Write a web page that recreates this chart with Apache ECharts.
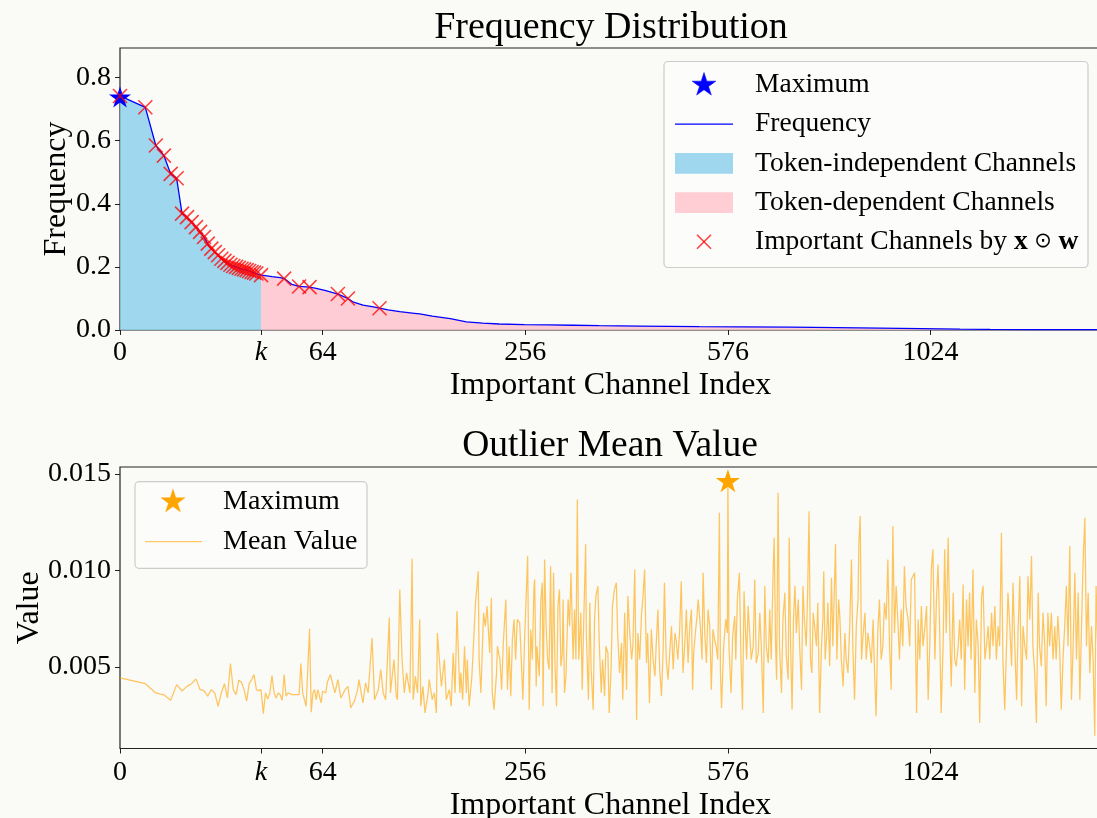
<!DOCTYPE html>
<html><head><meta charset="utf-8">
<script src="https://cdn.jsdelivr.net/npm/echarts@6/dist/echarts.min.js"></script>
<style>html,body{margin:0;padding:0;background:#fafaf7;}#c{width:1097px;height:818px;}</style>
</head><body><div id="c"></div>
<script>
// ---------- data ----------
const K = 31;
const xTickIdx = [0, K, 64, 256, 576, 1024];
const xTickLabels = ['0', 'k', '64', '256', '576', '1024'];
const xMaxIdx = 1500;
const yTicksTop = [0, 0.2, 0.4, 0.6, 0.8];
const yTicksBottom = [0.005, 0.010, 0.015];

const freqIdx = [0,1,2,3,4,5,6,7,8,9,10,11,12,13,14,15,16,17,18,19,20,21,22,23,24,25,26,27,28,29,30,31,32,
  36,40,42,46,50,54,56,60,66,70,74,78,81,85,92,100,105,112,122,135,140,152,170,187,205,224,255,287,320,358,420,523,600,700,800,900,1000,1100,1180,1300,1400,1500];
const freqVal = [0.742,0.706,0.585,0.553,0.495,0.481,0.369,0.358,0.342,0.326,0.311,0.295,0.274,0.258,0.247,0.237,0.226,0.219,0.213,0.207,0.203,0.200,0.197,0.194,0.192,0.190,0.187,0.184,0.182,0.179,0.176,0.174,0.173,
  0.169,0.166,0.163,0.145,0.138,0.137,0.136,0.132,0.125,0.119,0.114,0.106,0.100,0.088,0.079,0.073,0.069,0.064,0.058,0.053,0.051,0.044,0.036,0.026,0.022,0.019,0.017,0.016,0.015,0.0136,0.0126,0.0105,0.0100,0.0090,0.0075,0.0060,0.0045,0.0030,0.0020,0.0015,0.0012,0.0010];
const importantIdx = [0,1,2,3,4,5,6,7,8,9,10,11,12,13,14,15,16,17,18,19,20,21,22,23,24,25,26,27,28,29,31,42,50,56,74,81,105];

const meanIdx = [0,1,2,3,4,5,6,7,8,9,10,11,12,13,14,15,16,17,18,19,20,21,22,23,24,25,26,27,28,29,30,31,32,33,34,35,36,37,38,39,40,41,42,43,44,45,46,47,48,49,50,51,52,53,54,55,56,57,58,59,60,61,62,63,64,66,67,
69,72,74,76,79,81,83,86,88,89,92,94,96,99,101,104,106,108,110,113,114,117,119,120,122,124,126,128,131,133,134,136,138,140,141,143,145,148,149,152,154,156,157,159,161,164,166,169,171,173,175,177,180,181,183,185,187,188,190,193,195,197,200,201,203,206,208,210,213,215,216,218,221,222,225,227,229,232,234,236,238,240,242,244,246,249,251,253,255,257,259,261,
263,265,267,268,270,271,274,276,278,279,281,283,285,287,289,291,293,295,297,299,301,303,305,306,308,310,313,315,317,320,322,324,326,328,331,333,335,338,339,342,344,346,349,351,353,356,358,361,363,366,368,371,373,376,378,381,384,386,389,392,394,397,400,402,405,408,410,413,416,418,421,424,426,429,432,434,437,440,443,446,448,451,454,457,460,462,465,468,471,474,477,480,482,485,488,491,494,497,500,503,506,509,511,513,516,519,521,525,528,530,533,536,539,542,545,548,551,
554,557,560,562,564,568,572,575,576,578,582,585,589,591,594,598,601,604,607,609,612,615,618,621,625,628,631,635,638,641,645,648,651,655,658,661,665,667,670,672,675,678,682,685,689,692,696,698,701,704,707,710,713,717,720,724,727,730,734,737,740,743,746,749,752,756,759,763,767,770,772,775,778,781,785,789,792,796,798,801,805,808,811,815,819,822,826,830,834,837,841,845,849,851,854,857,861,865,868,872,876,880,884,888,891,895,899,903,907,911,915,919,923,927,931,935,939,943,947,951,955,959,963,968,972,976,980,
984,989,993,997,1001,1005,1010,1014,1018,1022,1026,1030,1035,1039,1043,1047,1051,1056,1060,1064,1069,1073,1077,1082,1086,1090,1095,1099,1103,1108,1112,1117,1121,1125,1129,1134,1139,1143,1148,1152,1157,1161,1166,1170,1175,1179,1184,1188,1193,1197,1202,1206,1211,1215,1220,1225,1229,1234,1239,1243,1248,1253,1257,1262,1267,1271,1276,1281,1285,1290,1295,1299,1304,1309,1314,1318,1323,1328,1333,1337,1342,1347,1352,1357,1362,1366,1371,1376,1381,1386,1391,1396,1401,1406,1411,1416,1421,1426,1431,1436,1441,1446,1451,1456,1461,1466,1471,1476,1481,1485,1490,1495,1500];
const meanVal = [0.00443,0.00413,0.00365,0.00355,0.00327,0.00408,0.00375,0.00399,0.00413,0.00438,0.00382,0.00377,0.00348,0.00382,0.00365,0.00296,0.00365,0.00413,0.00339,0.00517,0.00382,0.00356,0.00431,0.00420,0.00382,0.00322,0.00413,0.00434,0.00460,0.00382,0.00377,0.00382,0.00258,0.00365,0.00334,0.00365,0.00455,0.00365,0.00339,0.00365,0.00356,0.00327,0.00460,0.00348,0.00365,0.00365,0.00356,0.00365,0.00356,0.00365,0.00356,0.00517,0.00365,0.00365,0.00296,0.00304,0.00697,0.00265,0.00365,0.00382,0.00330,0.00382,0.00348,0.00313,0.00374,0.00365,0.00420,
0.00460,0.00365,0.00434,0.00339,0.00382,0.00399,0.00287,0.00330,0.00382,0.00434,0.00313,0.00417,0.00365,0.00650,0.00330,0.00382,0.00486,0.00365,0.00330,0.00754,0.00365,0.00538,0.00348,0.00330,0.00901,0.00538,0.00365,0.00469,0.00365,0.01060,0.00330,0.00451,0.00365,0.00746,0.00296,0.00399,0.00261,0.00365,0.00434,0.00330,0.00365,0.00261,0.00676,0.00538,0.00399,0.00538,0.00330,0.00382,0.00296,0.00572,0.00365,0.00789,0.00365,0.00469,0.00330,0.00607,0.00365,0.00538,0.00296,0.00451,0.00642,0.00832,0.00996,0.00538,0.00365,0.00780,0.00711,0.00815,0.00572,0.00858,0.00365,0.00278,0.00469,0.00607,0.00538,0.00382,0.00624,0.00849,0.00382,0.00607,0.00348,0.00642,0.00746,0.00538,0.00746,0.00728,0.00538,0.00330,0.00624,0.00849,0.01074,0.00278,
0.00694,0.00538,0.00901,0.00953,0.00399,0.00607,0.00451,0.00849,0.00936,0.00296,0.01057,0.00711,0.00538,0.00486,0.01022,0.00365,0.00988,0.00503,0.00296,0.00815,0.00901,0.00503,0.00572,0.00849,0.00365,0.00451,0.00849,0.00711,0.00988,0.00538,0.00797,0.00538,0.01368,0.00538,0.00780,0.00382,0.00711,0.01135,0.00659,0.00330,0.00832,0.00486,0.00278,0.00746,0.00867,0.00919,0.00624,0.00365,0.00538,0.00348,0.00607,0.00572,0.00261,0.00503,0.00815,0.00901,0.00936,0.00676,0.00469,0.00624,0.00330,0.00780,0.00382,0.00867,0.00676,0.00538,0.00607,0.01005,0.00226,0.00676,0.00538,0.00780,0.00849,0.01005,0.00520,0.00676,0.00313,0.00694,0.00538,0.00451,0.00607,0.00797,0.00486,0.00348,0.00607,0.00936,0.00538,0.00434,0.00572,0.00711,0.00486,0.00676,0.00642,0.00538,0.00676,0.00944,0.00469,0.00607,0.00797,0.00520,0.00711,0.00797,0.00382,0.00572,0.00676,0.00763,0.00849,0.00711,0.00538,0.00988,0.00676,0.00520,0.00797,0.00711,0.00382,0.00694,0.00642,
0.00607,0.00538,0.01299,0.00469,0.00287,0.00607,0.00746,0.00676,0.0147,0.00607,0.00365,0.00659,0.00763,0.00538,0.00849,0.00988,0.00538,0.00278,0.00892,0.00746,0.00538,0.00815,0.00676,0.00538,0.00607,0.00953,0.00520,0.00572,0.00780,0.00607,0.00261,0.00919,0.00607,0.00520,0.00797,0.00538,0.01005,0.01169,0.00607,0.00434,0.01403,0.00607,0.00365,0.00746,0.00884,0.00555,0.00434,0.01169,0.00607,0.00278,0.00746,0.00919,0.00676,0.00849,0.00607,0.00382,0.00919,0.00746,0.00607,0.00884,0.01307,0.00538,0.00469,0.00780,0.00711,0.00607,0.00832,0.00261,0.00607,0.00746,0.00996,0.00538,0.00642,0.00832,0.00503,0.00962,0.00607,0.00607,0.01135,0.00538,0.00849,0.00746,0.00538,0.00399,0.00676,0.00538,0.00469,0.00711,0.01057,0.00607,0.00330,0.00711,0.00849,0.01143,0.01282,0.00538,0.00676,0.00780,0.00538,0.00676,0.00607,0.00520,0.00746,0.00434,0.00244,0.00676,0.00849,0.00538,0.00607,0.00832,0.00746,0.01057,0.00607,0.00382,0.01230,0.00676,0.00919,0.00746,0.00538,0.00797,0.00607,0.01022,0.00815,0.00746,0.00607,0.00953,0.00970,
0.00988,0.00261,0.00746,0.00538,0.00815,0.00607,0.00711,0.00815,0.00330,0.00607,0.01005,0.01109,0.00538,0.00849,0.01031,0.00711,0.00261,0.00607,0.01109,0.00676,0.01169,0.00711,0.00399,0.00884,0.00538,0.00503,0.00607,0.00746,0.00538,0.00927,0.00382,0.00849,0.00607,0.00884,0.00538,0.01005,0.00365,0.00746,0.00607,0.00209,0.00867,0.00919,0.00538,0.00607,0.00711,0.00538,0.00780,0.00607,0.00815,0.00538,0.00711,0.00607,0.01195,0.00538,0.00278,0.00607,0.00884,0.00711,0.00503,0.00936,0.00607,0.00330,0.00676,0.00970,0.00296,0.00711,0.00607,0.00538,0.00970,0.00746,0.01074,0.00607,0.00469,0.00209,0.00884,0.00607,0.00503,0.00780,0.00607,0.00296,0.00780,0.00607,0.00780,0.00538,0.00711,0.00538,0.00763,0.00607,0.00278,0.00538,0.00711,0.00919,0.00607,0.01126,0.00330,0.00607,0.00988,0.00538,0.00884,0.00330,0.00711,0.01057,0.01273,0.00607,0.00884,0.00469,0.00711,0.00538,0.00143,0.00919,0.00600,0.00520,0.00580];

// ---------- helpers ----------
const SERIF = '"Liberation Serif","Times New Roman",serif';
const sx = i => Math.sqrt(i);              // sqrt-scaled channel axis
const xTickPos = xTickIdx.map(sx);
const STAR = 'path://M0,-100L22.45,-30.9L95.1,-30.9L36.3,11.8L58.8,80.9L0,38.2L-58.8,80.9L-36.3,11.8L-95.1,-30.9L-22.45,-30.9Z';
const CROSS = 'path://M0,0L10,10M10,0L0,10';
const BG = '#fafaf7';

const freqPts = freqIdx.map((d, i) => [sx(d), freqVal[i]]);
const indPts = freqIdx.map((d, i) => [d, freqVal[i]]).filter(p => p[0] <= K).map(p => [sx(p[0]), p[1]]);
const depPts = freqIdx.map((d, i) => [d, freqVal[i]]).filter(p => p[0] >= K).map(p => [sx(p[0]), p[1]]);
const impPts = importantIdx.map(d => [sx(d), freqVal[freqIdx.indexOf(d)]]);
let fMax = 0; freqVal.forEach((v, i) => { if (v > freqVal[fMax]) fMax = i; });
const meanPts = meanIdx.map((d, i) => [sx(d), meanVal[i]]);
let mMax = 0; meanVal.forEach((v, i) => { if (v > meanVal[mMax]) mMax = i; });

function xAxis(gi, margin, gap) {
  return {
    type: 'value', gridIndex: gi, min: 0, max: sx(xMaxIdx),
    axisLine: { show: false }, splitLine: { show: false },
    axisTick: { show: true, customValues: xTickPos, length: 5, lineStyle: { color: '#222', width: 1 } },
    axisLabel: {
      customValues: xTickPos, margin: margin, fontSize: 28, fontFamily: SERIF, color: '#000',
      formatter: v => {
        const j = xTickPos.findIndex(p => Math.abs(p - v) < 1e-6);
        const s = j >= 0 ? xTickLabels[j] : '';
        return s === 'k' ? '{it|k}' : s;
      },
      rich: { it: { fontStyle: 'italic', fontSize: 28, fontFamily: SERIF, color: '#000' } }
    },
    name: 'Important Channel Index', nameLocation: 'middle', nameGap: gap, nameMoveOverlap: false,
    nameTextStyle: { fontSize: 32, fontFamily: SERIF, color: '#000' }
  };
}
function yAxis(gi, min, max, ticks, dec, name, gap) {
  return {
    type: 'value', gridIndex: gi, min: min, max: max,
    axisLine: { show: false }, splitLine: { show: false },
    axisTick: { show: true, customValues: ticks, length: 5, lineStyle: { color: '#222', width: 1 } },
    axisLabel: { customValues: ticks, margin: 9, fontSize: 28, fontFamily: SERIF, color: '#000', formatter: v => v.toFixed(dec) },
    name: name, nameLocation: 'middle', nameGap: gap, nameMoveOverlap: false,
    nameTextStyle: { fontSize: 32, fontFamily: SERIF, color: '#000' }
  };
}
function txt(x, y, text, size, extra) {
  return { type: 'text', x: x, y: y, z: 100, style: Object.assign({ text: text, font: size + 'px ' + SERIF, fill: '#000', textVerticalAlign: 'middle', textAlign: 'left' }, extra || {}) };
}
function starG(cx, cy, s, color) {
  const pts = [];
  for (let i = 0; i < 10; i++) {
    const r = (i % 2 === 0 ? 1 : 0.382) * s / 2;
    const a = -Math.PI / 2 + i * Math.PI / 5;
    pts.push([cx + r * Math.cos(a), cy + r * Math.sin(a)]);
  }
  return { type: 'polygon', z: 100, shape: { points: pts }, style: { fill: color, stroke: color, lineWidth: 0.5 } };
}
function crossG(cx, cy, s, color) {
  const h = s / 2;
  return [
    { type: 'line', z: 100, shape: { x1: cx - h, y1: cy - h, x2: cx + h, y2: cy + h }, style: { stroke: color, lineWidth: 1.6 } },
    { type: 'line', z: 100, shape: { x1: cx + h, y1: cy - h, x2: cx - h, y2: cy + h }, style: { stroke: color, lineWidth: 1.6 } }
  ];
}

const chart = echarts.init(document.getElementById('c'), null, { renderer: 'canvas' });
const legTopY = [85, 124.2, 163.4, 202.6, 241.8];
const LF = 27.5;
const gridBase = { left: 120, right: -4, show: true, borderColor: '#222', borderWidth: 1.2, backgroundColor: 'transparent', containLabel: false, outerBoundsMode: 'none' };
const option = {
  backgroundColor: BG,
  animation: false,
  grid: [
    Object.assign({ top: 48, height: 282 }, gridBase),
    Object.assign({ top: 467, height: 281.5 }, gridBase)
  ],
  xAxis: [xAxis(0, 9, 40), xAxis(1, 10, 41)],
  yAxis: [
    yAxis(0, 0, 0.894, yTicksTop, 1, 'Frequency', 47),
    yAxis(1, 0.00077, 0.01536, yTicksBottom, 3, 'Value', 74)
  ],
  series: [
    { name: 'Token-independent Channels', type: 'line', xAxisIndex: 0, yAxisIndex: 0, data: indPts, showSymbol: false, lineStyle: { width: 0 }, areaStyle: { color: 'rgba(135,206,235,0.8)', opacity: 1 }, z: 1 },
    { name: 'Token-dependent Channels', type: 'line', xAxisIndex: 0, yAxisIndex: 0, data: depPts, showSymbol: false, lineStyle: { width: 0 }, areaStyle: { color: 'rgba(255,192,203,0.8)', opacity: 1 }, z: 1 },
    { name: 'Frequency', type: 'line', xAxisIndex: 0, yAxisIndex: 0, data: freqPts, showSymbol: false, lineStyle: { color: '#0000ff', width: 1.3 }, z: 2 },
    { name: 'Maximum', type: 'scatter', xAxisIndex: 0, yAxisIndex: 0, data: [freqPts[fMax]], symbol: STAR, symbolKeepAspect: true, symbolSize: 22, symbolOffset: [0, 1], itemStyle: { color: '#0000ff', opacity: 1 }, z: 3 },
    { name: 'Important Channels', type: 'scatter', xAxisIndex: 0, yAxisIndex: 0, data: impPts, symbol: CROSS, symbolSize: 14, itemStyle: { color: 'rgba(0,0,0,0)', borderColor: 'rgba(255,0,0,0.75)', borderWidth: 1.6, opacity: 1 }, z: 4 },
    { name: 'Mean Value', type: 'line', xAxisIndex: 1, yAxisIndex: 1, data: meanPts, showSymbol: false, lineStyle: { color: 'rgba(255,165,0,0.62)', width: 1.25 }, z: 2 },
    { name: 'Maximum ', type: 'scatter', xAxisIndex: 1, yAxisIndex: 1, data: [meanPts[mMax]], symbol: STAR, symbolKeepAspect: true, symbolSize: 24, symbolOffset: [0, 1], itemStyle: { color: '#ffa500', opacity: 1 }, z: 3 }
  ],
  graphic: [
    txt(611, 28, 'Frequency Distribution', 38, { textAlign: 'center' }),
    txt(610, 446, 'Outlier Mean Value', 37.5, { textAlign: 'center' }),
    // top legend
    { type: 'rect', z: 99, shape: { x: 664, y: 61.5, width: 424, height: 206, r: 4 }, style: { fill: 'rgba(253,253,251,0.8)', stroke: '#cccccc', lineWidth: 1.2 } },
    starG(704, legTopY[0], 25, '#0000ff'),
    { type: 'line', z: 100, shape: { x1: 675, y1: legTopY[1], x2: 733, y2: legTopY[1] }, style: { stroke: '#0000ff', lineWidth: 1.3 } },
    { type: 'rect', z: 100, shape: { x: 675, y: legTopY[2] - 10.3, width: 58, height: 20.6 }, style: { fill: 'rgba(135,206,235,0.8)' } },
    { type: 'rect', z: 100, shape: { x: 675, y: legTopY[3] - 10.3, width: 58, height: 20.6 }, style: { fill: 'rgba(255,192,203,0.8)' } },
    ...crossG(704, legTopY[4], 14, 'rgba(255,0,0,0.75)'),
    txt(755, legTopY[0], 'Maximum', LF),
    txt(755, legTopY[1], 'Frequency', LF),
    txt(755, legTopY[2], 'Token-independent Channels', LF),
    txt(755, legTopY[3], 'Token-dependent Channels', LF),
    txt(755, legTopY[4], 'Important Channels by {b|x}{o| ⊙ }{b|w}', LF, { rich: {
      b: { fontWeight: 'bold', fontSize: LF, fontFamily: SERIF, fill: '#000' },
      o: { fontSize: 21, fontFamily: '"DejaVu Sans",sans-serif', fill: '#000' } } }),
    // bottom legend
    { type: 'rect', z: 99, shape: { x: 135, y: 481.7, width: 232, height: 86.6, r: 4 }, style: { fill: 'rgba(253,253,251,0.8)', stroke: '#cccccc', lineWidth: 1.2 } },
    starG(173, 501.7, 25, '#ffa500'),
    { type: 'line', z: 100, shape: { x1: 145, y1: 541.7, x2: 202, y2: 541.7 }, style: { stroke: 'rgba(255,165,0,0.6)', lineWidth: 1.2 } },
    txt(223, 501.7, 'Maximum', 28),
    txt(223, 541.7, 'Mean Value', 28)
  ]
};
chart.setOption(option);
</script></body></html>
